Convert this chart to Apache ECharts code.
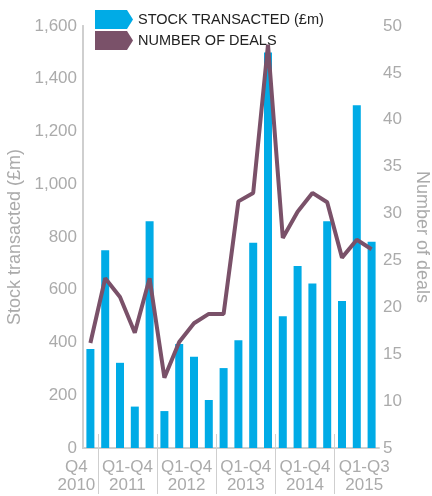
<!DOCTYPE html>
<html>
<head>
<meta charset="utf-8">
<script src="https://cdn.jsdelivr.net/npm/echarts@6/dist/echarts.min.js"></script>
<style>
  html, body { margin: 0; padding: 0; background: #fff; }
  #chart { width: 432px; height: 496px; }
</style>
</head>
<body>
<div id="chart"></div>
<script>
const periods = [
  "Q4 2010",
  "Q1 2011", "Q2 2011", "Q3 2011", "Q4 2011",
  "Q1 2012", "Q2 2012", "Q3 2012", "Q4 2012",
  "Q1 2013", "Q2 2013", "Q3 2013", "Q4 2013",
  "Q1 2014", "Q2 2014", "Q3 2014", "Q4 2014",
  "Q1 2015", "Q2 2015", "Q3 2015"
];
const stockTransacted = [375, 750, 323, 157, 860, 140, 394, 346, 182, 303, 409, 778, 1500, 500, 690, 624, 860, 557, 1300, 782];
const numberOfDeals = [16.2, 23.1, 21.1, 17.3, 23.1, 12.5, 16.3, 18.3, 19.3, 19.3, 31.3, 32.2, 48, 27.4, 30.2, 32.2, 31.2, 25.3, 27.2, 26.2];

// year groups along the bottom
const groupLabels = [["Q4", "2010"], ["Q1-Q4", "2011"], ["Q1-Q4", "2012"], ["Q1-Q4", "2013"], ["Q1-Q4", "2014"], ["Q1-Q3", "2015"]];
const groupCentres = [0.5, 3, 7, 11, 15, 19];
const groupBreaks = [1, 5, 9, 13, 17];

const grey = "#ababab";
const lineGrey = "#cfcfcf";
const font = "Liberation Sans, Arial, sans-serif";

function groupLabel(style) {
  return function (val) {
    const i = groupCentres.indexOf(val);
    if (i < 0) return "";
    return groupLabels[i].map(function (s) { return "{" + style + "|" + s + "}"; }).join("\n");
  };
}

const chart = echarts.init(document.getElementById("chart"));

chart.setOption({
  animation: false,
  textStyle: { fontFamily: font },
  grid: { left: 83, right: 53, top: 26, bottom: 48, outerBoundsMode: "none", containLabel: false },
  legend: {
    left: 95,
    top: 10,
    padding: 0,
    orient: "vertical",
    itemWidth: 38,
    itemHeight: 19,
    itemGap: 2,
    textStyle: { fontSize: 14.5, color: "#222", fontFamily: font },
    data: [
      { name: "STOCK TRANSACTED (£m)", icon: "path://M0,0 L32,0 L38,9.5 L32,19 L0,19 Z" },
      { name: "NUMBER OF DEALS", icon: "path://M0,0 L32,0 L38,9.5 L32,19 L0,19 Z" }
    ]
  },
  xAxis: [
    {
      type: "category",
      data: periods,
      axisLine: { lineStyle: { color: lineGrey, width: 2 } },
      axisTick: { show: false },
      axisLabel: { show: false }
    },
    {
      // year separators + year group labels
      type: "value",
      min: 0,
      max: 20,
      position: "bottom",
      offset: -14,
      axisLine: { show: false },
      splitLine: { show: false },
      axisTick: {
        show: true,
        length: 60,
        customValues: groupBreaks,
        lineStyle: { color: lineGrey, width: 1 }
      },
      axisLabel: {
        customValues: groupCentres.slice(1),
        hideOverlap: false,
        margin: 24,
        formatter: groupLabel("grp"),
        rich: {
          grp: { color: grey, fontSize: 17, lineHeight: 18, fontFamily: font }
        }
      }
    },
    {
      // the lone Q4 2010 label, pushed left of its bar
      type: "value",
      min: 0,
      max: 20,
      position: "bottom",
      offset: -14,
      axisLine: { show: false },
      axisTick: { show: false },
      splitLine: { show: false },
      axisLabel: {
        customValues: groupCentres.slice(0, 1),
        showMinLabel: true,
        hideOverlap: false,
        margin: 24,
        formatter: groupLabel("first"),
        rich: {
          first: { color: grey, fontSize: 17, lineHeight: 18, padding: [0, 28, 0, 0], fontFamily: font }
        }
      }
    }
  ],
  yAxis: [
    {
      type: "value",
      min: 0,
      max: 1600,
      interval: 200,
      name: "Stock transacted (£m)",
      nameLocation: "middle",
      nameGap: 57,
      nameTextStyle: { color: grey, fontSize: 18 },
      axisLine: { show: true, lineStyle: { color: lineGrey, width: 2 } },
      axisTick: { show: false },
      splitLine: { show: false },
      axisLabel: {
        color: grey,
        fontSize: 17,
        margin: 6,
        formatter: function (v) { return v.toLocaleString("en-GB"); }
      }
    },
    {
      type: "value",
      min: 5,
      max: 50,
      interval: 5,
      position: "right",
      name: "Number of deals",
      nameLocation: "middle",
      nameRotate: -90,
      nameGap: 34,
      nameTextStyle: { color: grey, fontSize: 18 },
      axisLine: { show: true, lineStyle: { color: lineGrey, width: 2 } },
      axisTick: { show: false },
      splitLine: { show: false },
      axisLabel: { color: grey, fontSize: 17, margin: 4 }
    }
  ],
  series: [
    {
      name: "STOCK TRANSACTED (£m)",
      type: "bar",
      data: stockTransacted,
      barWidth: 8,
      itemStyle: { color: "#00abe6" }
    },
    {
      name: "NUMBER OF DEALS",
      type: "line",
      yAxisIndex: 1,
      data: numberOfDeals,
      symbol: "none",
      lineStyle: { color: "#7a5169", width: 4 },
      itemStyle: { color: "#7a5169" }
    }
  ]
});
</script>
</body>
</html>
